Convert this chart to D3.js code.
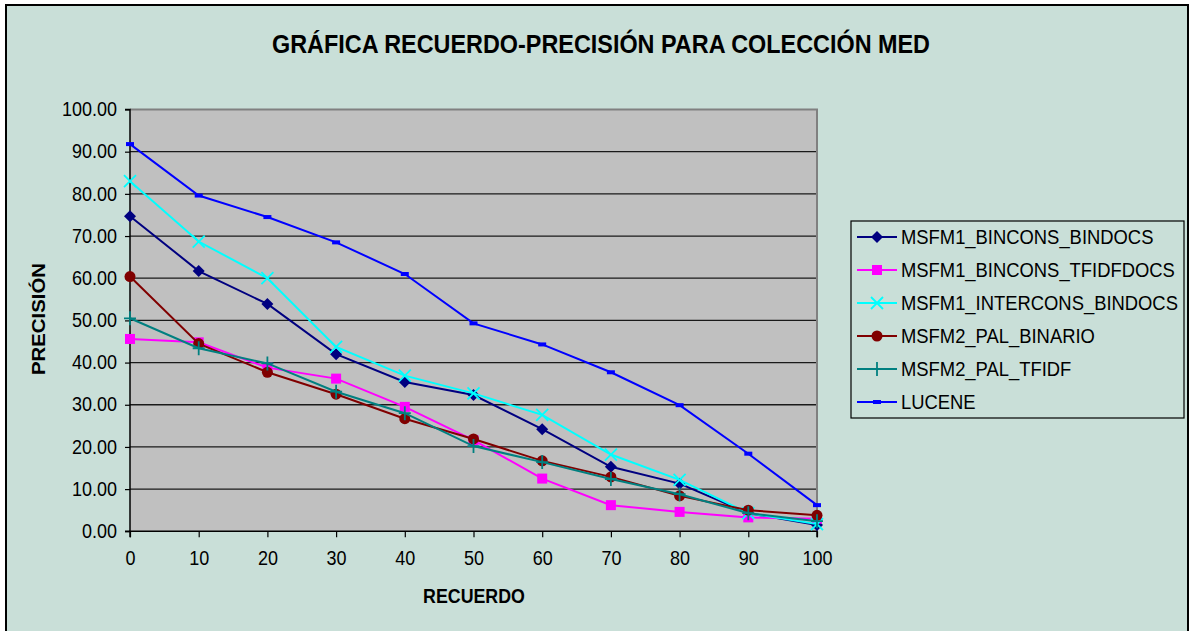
<!DOCTYPE html>
<html><head><meta charset="utf-8">
<script src="https://cdn.jsdelivr.net/npm/d3@7"></script>
<style>body{margin:0;background:#fff}svg{display:block}text{font-family:Arial,"Liberation Sans",sans-serif}</style>
</head><body><svg id="c" width="1190" height="631"></svg>
<script>
const recall = [0,10,20,30,40,50,60,70,80,90,100];
const yTicks = [0,10,20,30,40,50,60,70,80,90,100];
const seriesNames = ["MSFM1_BINCONS_BINDOCS","MSFM1_BINCONS_TFIDFDOCS","MSFM1_INTERCONS_BINDOCS","MSFM2_PAL_BINARIO","MSFM2_PAL_TFIDF","LUCENE"];
const binconsBindocs   = [74.7,61.7,53.9,42.0,35.4,32.3,24.2,15.3,11.3,4.3,1.5];
const binconsTfidfdocs = [45.6,44.8,38.8,36.2,29.5,21.6,12.5,6.2,4.6,3.3,3.0];
const interconsBindocs = [83.0,68.7,60.0,43.7,36.9,32.7,27.6,18.2,12.2,4.3,1.7];
const palBinario       = [60.4,44.5,37.7,32.5,26.7,21.9,16.7,12.9,8.4,5.0,3.8];
const palTfidf         = [50.5,43.4,39.8,33.1,28.0,20.2,16.4,12.4,8.8,4.3,2.4];
const lucene           = [91.8,79.6,74.5,68.5,61.0,49.3,44.3,37.7,29.9,18.4,6.2];
const seriesValues = [binconsBindocs,binconsTfidfdocs,interconsBindocs,palBinario,palTfidf,lucene];
const colors = ["#000080","#FF00FF","#00FFFF","#800000","#008080","#0000FF"];
const markers = ["diamond","square","x","circle","plus","dash"];

const svg = d3.select("#c");
svg.append("rect").attr("x",6).attr("y",5).attr("width",1182).attr("height",640)
  .attr("fill","#C9DFD8").attr("stroke","#000").attr("stroke-width",2);

const L=130,R=817,T=109.5,B=531.3;
const x = d3.scaleLinear().domain([0,100]).range([L,R]);
const y = d3.scaleLinear().domain([0,100]).range([B,T]);

svg.append("rect").attr("x",L).attr("y",T).attr("width",R-L).attr("height",B-T).attr("fill","#C0C0C0");
svg.append("g").selectAll("line").data(yTicks.filter(d=>d>0&&d<100)).join("line")
  .attr("x1",L).attr("x2",R).attr("y1",d=>y(d)).attr("y2",d=>y(d))
  .attr("stroke","#1a1a1a").attr("stroke-width",1.3);
svg.append("path").attr("d",`M${L},${T}H${R}V${B}`).attr("fill","none").attr("stroke","#808080").attr("stroke-width",2);

const yAxis = d3.axisLeft(y).tickValues(yTicks).tickSize(5).tickPadding(8).tickFormat(d3.format(".2f"));
const gy = svg.append("g").attr("transform",`translate(${L},0)`).call(yAxis);
const xAxis = d3.axisBottom(x).tickValues(recall).tickSize(6).tickPadding(12);
const gx = svg.append("g").attr("transform",`translate(0,${B})`).call(xAxis);
[gy,gx].forEach(g=>{
  g.select(".domain").attr("stroke","#000").attr("stroke-width",1.5);
  g.selectAll(".tick line").attr("stroke","#000").attr("stroke-width",1.2);
  g.selectAll(".tick text").attr("fill","#000").style("font-size","18px")
    .style("font-family","Arial, 'Liberation Sans', sans-serif").attr("transform","scale(1,1.08)");
});
gy.select(".domain").attr("d",`M-5,${T}H0V${B}H-5`);
gx.select(".domain").attr("d",`M${L},6V0H${R}V6`);

function drawMarker(g, type, color){
  if(type==="diamond") g.append("path").attr("d","M0,-6L6,0L0,6L-6,0Z").attr("fill",color);
  else if(type==="square") g.append("rect").attr("x",-5).attr("y",-5).attr("width",10).attr("height",10).attr("fill",color);
  else if(type==="x") g.append("path").attr("d","M-6,-6L6,6M-6,6L6,-6").attr("stroke",color).attr("stroke-width",1.8).attr("fill","none");
  else if(type==="circle") g.append("circle").attr("r",5.5).attr("fill",color);
  else if(type==="plus") g.append("path").attr("d","M-6,0H6M0,-7V7").attr("stroke",color).attr("stroke-width",1.8).attr("fill","none");
  else if(type==="dash") g.append("rect").attr("x",-4).attr("y",-2).attr("width",8).attr("height",4).attr("fill",color);
}

const line = d3.line().x((d,i)=>x(recall[i])).y(d=>y(d));
seriesValues.forEach((vals,si)=>{
  const g = svg.append("g");
  g.append("path").attr("d",line(vals)).attr("fill","none").attr("stroke",colors[si]).attr("stroke-width",2);
  vals.forEach((v,i)=>{
    const m = g.append("g").attr("transform",`translate(${x(recall[i])},${y(v)})`);
    drawMarker(m, markers[si], colors[si]);
  });
});

svg.append("text").attr("x",601).attr("y",53).attr("text-anchor","middle")
  .attr("textLength",658).attr("lengthAdjust","spacingAndGlyphs")
  .style("font-size","26px").style("font-weight","bold").attr("fill","#000")
  .text("GRÁFICA RECUERDO-PRECISIÓN PARA COLECCIÓN MED");
svg.append("text").attr("transform","translate(45,319) rotate(-90)").attr("text-anchor","middle")
  .attr("textLength",112).attr("lengthAdjust","spacingAndGlyphs")
  .style("font-size","18px").style("font-weight","bold").text("PRECISIÓN");
svg.append("text").attr("transform","translate(474,603) scale(1,1.1)").attr("text-anchor","middle")
  .style("font-size","17.8px").style("font-weight","bold").text("RECUERDO");

const lg = svg.append("g");
lg.append("rect").attr("x",851).attr("y",221).attr("width",333).attr("height",197)
  .attr("fill","none").attr("stroke","#000").attr("stroke-width",1.2);
seriesNames.forEach((n,i)=>{
  const yy = 237 + i*33;
  lg.append("line").attr("x1",857).attr("x2",897).attr("y1",yy).attr("y2",yy).attr("stroke",colors[i]).attr("stroke-width",2);
  const m = lg.append("g").attr("transform",`translate(877,${yy})`);
  drawMarker(m, markers[i], colors[i]);
  lg.append("text").attr("transform",`translate(901,${yy+7}) scale(1,1.08)`).style("font-size","18.4px").attr("fill","#000").text(n);
});
</script></body></html>
